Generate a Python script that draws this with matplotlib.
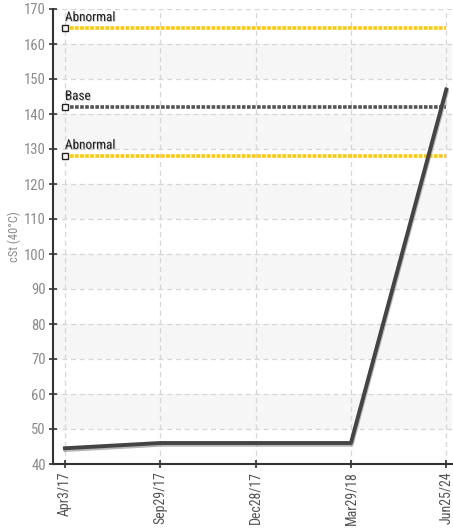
import matplotlib
matplotlib.use("Agg")
import matplotlib.pyplot as plt
import matplotlib.patheffects as pe
from matplotlib import font_manager

names = {f.name for f in font_manager.fontManager.ttflist}
fam = [n for n in ["Liberation Sans Narrow", "Roboto Condensed", "Roboto", "DejaVu Sans"] if n in names]
plt.rcParams['font.family'] = fam

categories = ["Apr3/17", "Sep29/17", "Dec28/17", "Mar29/18", "Jun25/24"]
values = [44.5, 46.0, 46.0, 46.0, 147.0]
limit_names = ["Abnormal", "Base", "Abnormal"]
limit_values = [164.5, 142.0, 128.0]
limit_colors = ["#ffc800", "#555555", "#ffc800"]
yticks = list(range(40, 171, 10))

fig = plt.figure(figsize=(4.53, 5.28), dpi=100)
ax = fig.add_axes([53/453, 1-464/528, 399/453, (464-9)/528])

x = list(range(len(categories)))
ax.set_xlim(-0.125, 4.06)
ax.set_ylim(40, 170)

# alternating bands
for lo in range(50, 170, 20):
    ax.axhspan(lo, lo + 10, color="#f6f6f6", zorder=0, lw=0)

ax.grid(True, color="#d6d6d6", linestyle=(0, (4, 3)), linewidth=0.9, zorder=1)
ax.set_axisbelow(True)

for name, val, col in zip(limit_names, limit_values, limit_colors):
    ax.plot([x[0], x[-1]], [val, val], color=col, lw=2.6, linestyle=(0, (1.0, 0.4)), zorder=3)
    ax.plot([x[0]], [val], marker="s", ms=4.5, mfc="white", mec="#222222", mew=1.0, zorder=5)
    ax.text(x[0], val + 1.2, name, fontsize=9.5, color="#222222", ha="left", va="bottom", zorder=6,
            path_effects=[pe.withSimplePatchShadow(offset=(0.6, -0.6), shadow_rgbFace="#aaaaaa", alpha=0.8)])

ax.plot(x, values, color="#444444", lw=2.8, zorder=4,
        path_effects=[pe.SimpleLineShadow(offset=(0.5, -1.3), shadow_color="#999999", alpha=0.7), pe.Normal()])

ax.set_xticks(x)
ax.set_xticklabels(categories, rotation=90, fontsize=10, color="#555555")
ax.set_yticks(yticks)
ax.set_yticklabels([str(v) for v in yticks], fontsize=10.5, color="#8a8a8a")
ax.tick_params(axis="both", direction="inout", length=6, width=1.2, color="#333333", pad=2)
ax.set_ylabel("cSt (40°C)", fontsize=9, color="#8a8a8a", labelpad=2)

for s in ["top", "right"]:
    ax.spines[s].set_visible(False)
for s in ["left", "bottom"]:
    ax.spines[s].set_color("#333333")
    ax.spines[s].set_linewidth(1.5)

fig.savefig("out.png", dpi=100)
